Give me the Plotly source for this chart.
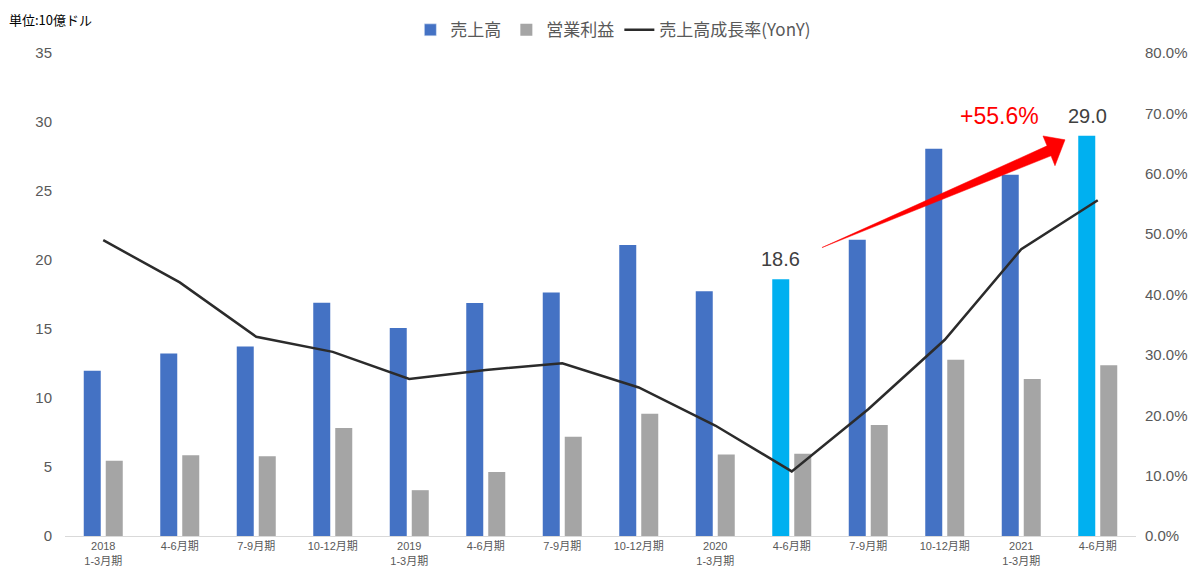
import plotly.graph_objects as go

# ---- data ----
years = ["2018", "", "", "", "2019", "", "", "", "2020", "", "", "", "2021", ""]
quarters = ["1-3月期", "4-6月期", "7-9月期", "10-12月期", "1-3月期", "4-6月期", "7-9月期", "10-12月期",
            "1-3月期", "4-6月期", "7-9月期", "10-12月期", "1-3月期", "4-6月期"]
sales = [11.97, 13.23, 13.73, 16.91, 15.08, 16.89, 17.65, 21.08, 17.74, 18.6, 21.47, 28.07, 26.17, 29.0]
op_income = [5.45, 5.86, 5.77, 7.82, 3.32, 4.63, 7.19, 8.86, 5.90, 5.96, 8.04, 12.78, 11.38, 12.37]
growth = [0.49, 0.42, 0.33, 0.305, 0.26, 0.275, 0.286, 0.246, 0.183, 0.107, 0.21, 0.325, 0.475, 0.556]
highlight = [9, 13]

tick_text = [f"{y}<br>{q}" if y else q for y, q in zip(years, quarters)]
x = list(range(len(quarters)))

BLUE = "#4472C4"
LIGHT = "#00B0F0"
GREY = "#A5A5A5"
TXT = "#595959"
FONT = "Liberation Sans, Arial, Noto Sans CJK JP, sans-serif"
JFONT = "Noto Sans CJK JP, Liberation Sans, sans-serif"

bar_colors = [LIGHT if i in highlight else BLUE for i in x]

fig = go.Figure()
fig.add_trace(go.Bar(x=x, y=sales, name="売上高", marker=dict(color=bar_colors, line=dict(width=0)),
                     offsetgroup="s", showlegend=False))
# legend proxy for blue (shares the same offset group so no extra slot)
fig.add_trace(go.Bar(x=[None], y=[None], name="売上高", marker=dict(color=BLUE), offsetgroup="s"))
fig.add_trace(go.Bar(x=x, y=op_income, name="営業利益", marker=dict(color=GREY, line=dict(width=0)),
                     offsetgroup="o"))
fig.add_trace(go.Scatter(x=x, y=growth, name="売上高成長率(YonY)", mode="lines",
                         line=dict(color="#2B2B2B", width=2.5), yaxis="y2"))

# ---- arrow decoration (data units) ----
i0, i1 = highlight
arrow_pts = [
    (i0 + 0.395, sales[i0] + 2.3),   # tail
    (i1 - 0.663, sales[i1] - 0.73),  # shaft upper
    (i1 - 0.716, sales[i1] - 0.01),  # head upper corner
    (i1 - 0.428, sales[i1] - 0.29),  # tip
    (i1 - 0.559, sales[i1] - 2.17),  # head lower corner
    (i1 - 0.611, sales[i1] - 1.45),  # shaft lower
]
path = "M " + " L ".join(f"{px},{py}" for px, py in arrow_pts) + " Z"
fig.add_shape(type="path", path=path, xref="x", yref="y", fillcolor="#FF0000",
              line=dict(color="#FF0000", width=0.5), layer="above")

# ---- annotations ----
fig.add_annotation(x=i0 - 0.15, y=sales[i0], text=f"{sales[i0]:.1f}", showarrow=False,
                   yanchor="bottom", yshift=7, font=dict(size=20, color="#404040", family=FONT))
fig.add_annotation(x=i1 - 0.13, y=sales[i1], text=f"{sales[i1]:.1f}", showarrow=False,
                   yanchor="bottom", yshift=7, font=dict(size=20, color="#404040", family=FONT))
fig.add_annotation(x=11.72, y=30.4, text=f"+{growth[i1] * 100:.1f}%", showarrow=False,
                   font=dict(size=23, color="#FF0000", family=FONT))
fig.add_annotation(xref="paper", yref="paper", x=-0.054, y=1.07, xanchor="left", yanchor="middle",
                   text="単位:10億ドル", showarrow=False,
                   font=dict(size=13, color="#000000", family=JFONT))

fig.update_layout(
    width=1200, height=585,
    margin=dict(l=65, r=64, t=48, b=49),
    paper_bgcolor="white", plot_bgcolor="white",
    barmode="group", bargap=0.425, bargroupgap=0.227,
    font=dict(family=FONT, color=TXT),
    legend=dict(orientation="h", x=0.512, xanchor="center", y=1.047, yanchor="middle",
                font=dict(size=17, color=TXT, family=JFONT),
                traceorder="normal", itemwidth=30),
    xaxis=dict(tickmode="array", tickvals=x, ticktext=tick_text, range=[-0.5, 13.5],
               showgrid=False, zeroline=False, showline=True, linecolor="#D9D9D9", linewidth=1,
               ticks="", tickfont=dict(size=11, color=TXT, family=FONT)),
    yaxis=dict(range=[0, 35], dtick=5, showgrid=False, zeroline=False, showline=False,
               ticks="", tickfont=dict(size=15, color=TXT, family=FONT), ticklabelstandoff=12),
    yaxis2=dict(range=[0, 0.8], dtick=0.1, tickformat=".1%", overlaying="y", side="right",
                showgrid=False, zeroline=False, showline=False, ticks="",
                tickfont=dict(size=15, color=TXT, family=FONT), ticklabelstandoff=8),
    hovermode=False,
)

fig.write_html("out.html")
